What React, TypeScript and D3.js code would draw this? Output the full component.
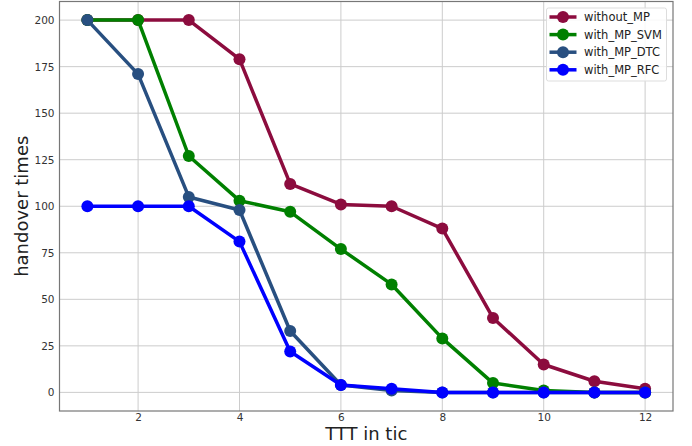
import React, { useEffect, useRef } from "react";
import * as d3 from "d3";

const ttt = [1, 2, 3, 4, 5, 6, 7, 8, 9, 10, 11, 12];
const withoutMP = [200, 200, 200, 179, 112, 101, 100, 88, 40, 15, 6, 2];
const withSVM = [200, 200, 127, 103, 97, 77, 58, 29, 5, 1, 0, 0];
const withDTC = [200, 171, 105, 98, 33, 4, 1, 0, 0, 0, 0, 0];
const withRFC = [100, 100, 100, 81, 22, 4, 2, 0, 0, 0, 0, 0];
const seriesNames = ["without_MP", "with_MP_SVM", "with_MP_DTC", "with_MP_RFC"];
const seriesColors = ["#8c0c3e", "#008000", "#284f80", "#0000ff"];
const xTicks = [2, 4, 6, 8, 10, 12];
const yTicks = [0, 25, 50, 75, 100, 125, 150, 175, 200];

const W = 692, H = 446;

export default function App() {
    const ref = useRef<SVGSVGElement>(null);

    useEffect(() => {
        const svg = d3.select(ref.current);
        svg.selectAll("*").remove();

        const margin = { top: 1.5, right: 19, bottom: 35, left: 59.5 };
        const w = W - margin.left - margin.right;
        const h = H - margin.top - margin.bottom;
        const g = svg.append("g").attr("transform", `translate(${margin.left},${margin.top})`);

        const x = d3.scaleLinear().domain([0.45, 12.55]).range([0, w]);
        const y = d3.scaleLinear().domain([-10, 210]).range([h, 0]);

        // grid
        g.selectAll(".vgrid").data(xTicks).join("line")
            .attr("x1", d => x(d)).attr("x2", d => x(d))
            .attr("y1", 0).attr("y2", h)
            .attr("stroke", "#cccccc").attr("stroke-width", 1);
        g.selectAll(".hgrid").data(yTicks).join("line")
            .attr("x1", 0).attr("x2", w)
            .attr("y1", d => y(d)).attr("y2", d => y(d))
            .attr("stroke", "#cccccc").attr("stroke-width", 1);

        // axes
        const xAxis = g.append("g").attr("transform", `translate(0,${h})`)
            .call(d3.axisBottom(x).tickValues(xTicks).tickSize(0).tickPadding(3));
        const yAxis = g.append("g")
            .call(d3.axisLeft(y).tickValues(yTicks).tickSize(0).tickPadding(5));
        [xAxis, yAxis].forEach(a => {
            a.select(".domain").remove();
            a.selectAll("text").attr("fill", "#333").style("font-family", "DejaVu Sans").style("font-size", "10.5px");
        });

        // frame
        g.append("rect").attr("x", 0).attr("y", 0).attr("width", w).attr("height", h)
            .attr("fill", "none").attr("stroke", "#777").attr("stroke-width", 1.2);

        const data = [withoutMP, withSVM, withDTC, withRFC];
        const line = d3.line<number>().x((d, i) => x(ttt[i])).y(d => y(d));

        data.forEach((vals, k) => {
            g.append("path").datum(vals).attr("d", line)
                .attr("fill", "none").attr("stroke", seriesColors[k])
                .attr("stroke-width", 3.5).attr("stroke-linejoin", "round");
            g.selectAll(`.pt${k}`).data(vals).join("circle")
                .attr("cx", (d, i) => x(ttt[i])).attr("cy", d => y(d))
                .attr("r", 6).attr("fill", seriesColors[k]);
        });

        // legend
        const lg = svg.append("g").attr("transform", "translate(546.5,8)");
        lg.append("rect").attr("width", 120).attr("height", 73).attr("rx", 2)
            .attr("fill", "white").attr("fill-opacity", 0.85).attr("stroke", "#dddddd");
        seriesNames.forEach((name, k) => {
            const yy = 9 + k * 17.6;
            lg.append("line").attr("x1", 3).attr("x2", 30).attr("y1", yy).attr("y2", yy)
                .attr("stroke", seriesColors[k]).attr("stroke-width", 3.5);
            lg.append("circle").attr("cx", 16.5).attr("cy", yy).attr("r", 6).attr("fill", seriesColors[k]);
            lg.append("text").attr("x", 37.5).attr("y", yy).attr("dy", "0.35em")
                .style("font-family", "DejaVu Sans").style("font-size", "11.5px").attr("fill", "#222")
                .text(name);
        });

        // labels
        svg.append("text").attr("x", margin.left + w / 2).attr("y", 440)
            .attr("text-anchor", "middle").style("font-family", "DejaVu Sans").style("font-size", "18px")
            .attr("fill", "#222").text("TTT in tic");
        svg.append("text").attr("transform", `translate(27.5,${margin.top + h / 2}) rotate(-90)`)
            .attr("text-anchor", "middle").style("font-family", "DejaVu Sans").style("font-size", "18px")
            .attr("fill", "#222").text("handover times");
    }, []);

    return (
        <svg ref={ref} width={W} height={H} style={{ position: "absolute", left: 0, top: 0 }} />
    );
}
